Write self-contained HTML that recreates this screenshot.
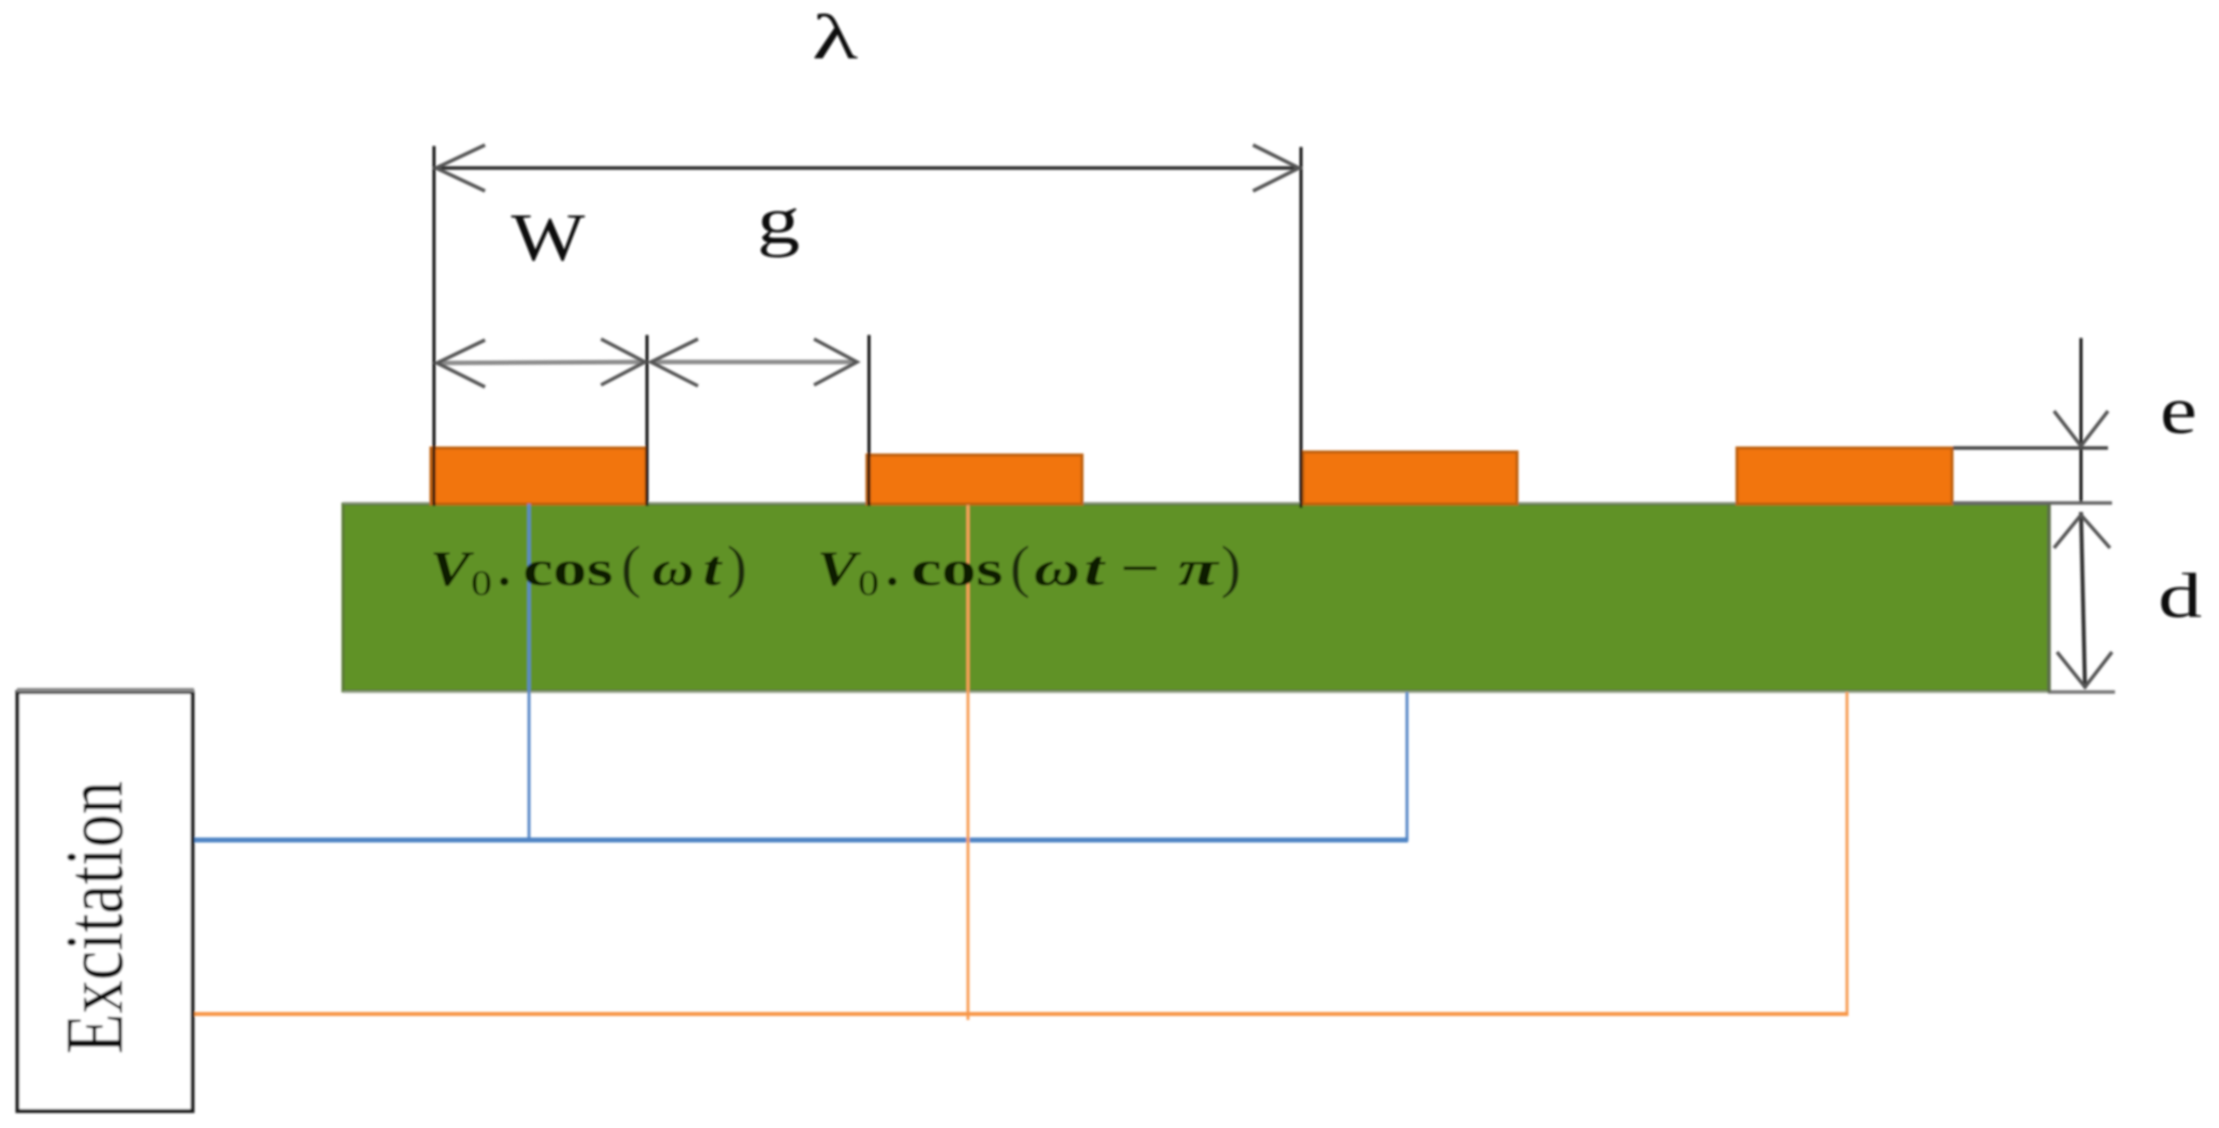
<!DOCTYPE html>
<html>
<head>
<meta charset="utf-8">
<style>
html,body{margin:0;padding:0;background:#fff;width:2219px;height:1128px;overflow:hidden}
svg{display:block}
text{font-family:"Liberation Serif",serif;fill:#111}
.f{fill:#0d1a05;font-size:50px;font-weight:bold}
.i{font-style:italic}
.p{font-size:58px;font-weight:normal;fill:#1a2c0c}
</style>
</head>
<body>
<svg width="2219" height="1128" viewBox="0 0 2219 1128" xmlns="http://www.w3.org/2000/svg">
<defs><filter id="b" x="-2%" y="-2%" width="104%" height="104%"><feGaussianBlur stdDeviation="1.1"/></filter></defs>
<rect width="2219" height="1128" fill="#fff"/>
<g filter="url(#b)">
  <!-- substrate -->
  <rect x="343" y="504" width="1706" height="187" fill="#619227" stroke="#5a7a35" stroke-width="3"/>
  <line x1="343" y1="503" x2="2049" y2="503" stroke="#8d9a80" stroke-width="2"/>
  <line x1="343" y1="692" x2="2049" y2="692" stroke="#9aa58f" stroke-width="2"/>
  <!-- electrodes -->
  <g fill="#F2740B" stroke="#BF610F" stroke-width="3">
    <rect x="431" y="448" width="215" height="56"/>
    <rect x="867" y="455" width="215" height="49"/>
    <rect x="1303" y="452" width="214" height="52"/>
    <rect x="1737" y="448" width="215" height="56"/>
  </g>
  <!-- wires -->
  <g fill="none" stroke="#5B8BC8" stroke-width="3">
    <line x1="529" y1="504" x2="529" y2="839"/>
    <line x1="1407" y1="692" x2="1407" y2="841"/>
  </g>
  <line x1="194" y1="840" x2="1408" y2="840" stroke="#4F84C4" stroke-width="5"/>
  <g fill="none" stroke="#F7A05A" stroke-width="3">
    <line x1="968" y1="505" x2="968" y2="1020"/>
    <line x1="1847" y1="692" x2="1847" y2="1016"/>
  </g>
  <line x1="194" y1="1014" x2="1848" y2="1014" stroke="#F79646" stroke-width="4"/>
  <!-- excitation box -->
  <rect x="17.5" y="692" width="175" height="419" fill="#fff" stroke="#1c1c1c" stroke-width="4"/>
  <line x1="17" y1="690" x2="194" y2="690" stroke="#888" stroke-width="4"/>
  <text transform="translate(122,1054) rotate(-90) scale(1,1.25)" font-size="66" textLength="273" lengthAdjust="spacingAndGlyphs">Excitation</text>
  <!-- extension lines -->
  <g stroke="#111" stroke-width="3" fill="none">
    <line x1="434" y1="146" x2="434" y2="506"/>
    <line x1="647" y1="335" x2="647" y2="506"/>
    <line x1="869" y1="335" x2="869" y2="506"/>
    <line x1="1301" y1="147" x2="1301" y2="508"/>
    <line x1="2081" y1="338" x2="2081" y2="504"/>
    <line x1="2081" y1="512" x2="2085" y2="688" stroke="#333" stroke-width="4"/>
  </g>
  <g stroke="#444" stroke-width="3.5" fill="none">
    <line x1="1953" y1="448" x2="2108" y2="448"/>
    <line x1="1953" y1="503" x2="2112" y2="503" stroke="#666"/>
    <line x1="2048" y1="692" x2="2115" y2="692" stroke="#777"/>
    <line x1="2049" y1="504" x2="2049" y2="692" stroke="#5a6b48"/>
  </g>
  <!-- dimension arrows -->
  <g stroke="#2a2a2a" stroke-width="3.5" fill="none">
    <line x1="436" y1="168" x2="1299" y2="168"/>
    <polyline points="485,145 436,168 485,191" stroke="#555"/>
    <polyline points="1253,145 1299,168 1253,191" stroke="#555"/>
  </g>
  <g fill="none">
    <line x1="437" y1="363" x2="645" y2="362" stroke="#8c8c8c" stroke-width="4.5"/>
    <line x1="651" y1="362" x2="856" y2="362" stroke="#8c8c8c" stroke-width="4.5"/>
    <g stroke="#555" stroke-width="3.5">
      <polyline points="485,340 437,363 485,387"/>
      <polyline points="601,339 645,362 601,385"/>
      <polyline points="698,339 651,362 698,386"/>
      <polyline points="814,339 857,362 814,385"/>
      <polyline points="2054,411 2081,446 2108,411"/>
      <polyline points="2054,548 2081,515 2110,548"/>
      <polyline points="2057,652 2085,687 2112,652"/>
    </g>
  </g>
  <!-- labels -->
  <text x="812" y="58" font-size="64" textLength="46" lengthAdjust="spacingAndGlyphs">λ</text>
  <text x="511" y="260" font-size="68" textLength="74" lengthAdjust="spacingAndGlyphs">W</text>
  <text x="757" y="243" font-size="68" textLength="43" lengthAdjust="spacingAndGlyphs">g</text>
  <text x="2160" y="433" font-size="68" textLength="37" lengthAdjust="spacingAndGlyphs">e</text>
  <text x="2158" y="617" font-size="64" textLength="44" lengthAdjust="spacingAndGlyphs">d</text>
  <!-- formula 1 -->
  <text class="f i" x="430" y="585" textLength="40" lengthAdjust="spacingAndGlyphs">V</text>
  <text class="f" x="471" y="595" font-size="36" style="font-size:36px;font-weight:normal" textLength="21" lengthAdjust="spacingAndGlyphs">0</text>
  <text class="f" x="498" y="585">.</text>
  <text class="f" x="523" y="585" textLength="90" lengthAdjust="spacingAndGlyphs">cos</text>
  <text class="f p" x="621" y="586" textLength="20" lengthAdjust="spacingAndGlyphs">(</text>
  <text class="f i" x="652" y="585" textLength="42" lengthAdjust="spacingAndGlyphs">ω</text>
  <text class="f i" x="703" y="585" textLength="18" lengthAdjust="spacingAndGlyphs">t</text>
  <text class="f p" x="727" y="586" textLength="20" lengthAdjust="spacingAndGlyphs">)</text>
  <!-- formula 2 -->
  <text class="f i" x="817" y="585" textLength="40" lengthAdjust="spacingAndGlyphs">V</text>
  <text class="f" x="858" y="595" style="font-size:36px;font-weight:normal" textLength="21" lengthAdjust="spacingAndGlyphs">0</text>
  <text class="f" x="886" y="585">.</text>
  <text class="f" x="911" y="585" textLength="92" lengthAdjust="spacingAndGlyphs">cos</text>
  <text class="f p" x="1010" y="586" textLength="20" lengthAdjust="spacingAndGlyphs">(</text>
  <text class="f i" x="1034" y="585" textLength="46" lengthAdjust="spacingAndGlyphs">ω</text>
  <text class="f i" x="1084" y="585" textLength="20" lengthAdjust="spacingAndGlyphs">t</text>
  <text class="f" x="1120" y="585" textLength="40" lengthAdjust="spacingAndGlyphs">−</text>
  <text class="f i" x="1178" y="585" textLength="40" lengthAdjust="spacingAndGlyphs">π</text>
  <text class="f p" x="1221" y="586" textLength="20" lengthAdjust="spacingAndGlyphs">)</text>
</g>
</svg>
</body>
</html>
